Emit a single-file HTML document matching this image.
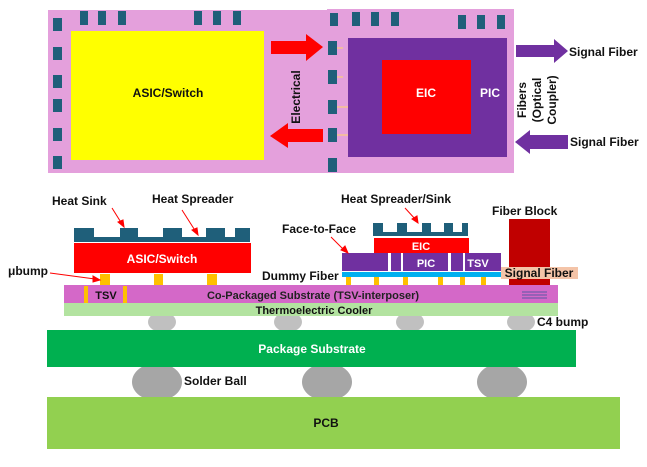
<!DOCTYPE html>
<html><head><meta charset="utf-8"><style>
html,body{margin:0;padding:0;background:#fff;}
svg{display:block;}
text{font-family:"Liberation Sans",Arial,sans-serif;font-weight:bold;}
</style></head><body>
<svg width="647" height="467" viewBox="0 0 647 467" xmlns="http://www.w3.org/2000/svg">
<!-- TOP VIEW -->
<rect x="48" y="10" width="280" height="163" fill="#e4a0dc"/>
<rect x="327" y="9" width="187" height="164" fill="#e4a0dc"/>
<rect x="71" y="31" width="193" height="129" fill="#ffff00"/>
<text x="168" y="97" font-size="12" text-anchor="middle" fill="#111">ASIC/Switch</text>
<rect x="348" y="38" width="159" height="119" fill="#7030a0"/>
<rect x="382" y="60" width="89" height="74" fill="#ff0000"/>
<text x="426" y="97" font-size="12" text-anchor="middle" fill="#fff">EIC</text>
<text x="490" y="97" font-size="12" text-anchor="middle" fill="#fff">PIC</text>
<g fill="#1f5f7a">
<rect x="53" y="18" width="9" height="13"/><rect x="53" y="47" width="9" height="13"/><rect x="53" y="75" width="9" height="13"/><rect x="53" y="99" width="9" height="13"/><rect x="53" y="128" width="9" height="13"/><rect x="53" y="156" width="9" height="13"/>
<rect x="80" y="11" width="8" height="14"/><rect x="98" y="11" width="8" height="14"/><rect x="118" y="11" width="8" height="14"/>
<rect x="194" y="11" width="8" height="14"/><rect x="213" y="11" width="8" height="14"/><rect x="233" y="11" width="8" height="14"/>
<rect x="330" y="13" width="8" height="13"/><rect x="352" y="12" width="8" height="14"/><rect x="371" y="12" width="8" height="14"/><rect x="391" y="12" width="8" height="14"/>
<rect x="458" y="15" width="8" height="14"/><rect x="477" y="15" width="8" height="14"/><rect x="497" y="15" width="8" height="14"/>
<rect x="328" y="41" width="9" height="14"/><rect x="328" y="70" width="9" height="14"/><rect x="328" y="100" width="9" height="14"/><rect x="328" y="128" width="9" height="14"/><rect x="328" y="158" width="9" height="14"/>
</g>
<g stroke="#ffd966" stroke-width="1">
<line x1="337" y1="48" x2="343" y2="48"/><line x1="337" y1="77" x2="343" y2="77"/><line x1="337" y1="107" x2="348" y2="107"/><line x1="337" y1="135" x2="348" y2="135"/>
</g>
<polygon points="271,41 306,41 306,34 323,47 306,61 306,54 271,54" fill="#ff0000"/>
<polygon points="323,129 288,129 288,123 270,136 288,148 288,142 323,142" fill="#ff0000"/>
<text transform="translate(300,97) rotate(-90)" font-size="12" text-anchor="middle" fill="#111">Electrical</text>
<polygon points="516,45 554,45 554,39 568,51 554,63 554,57 516,57" fill="#7030a0"/>
<polygon points="568,135 530,135 530,130 515,142 530,154 530,149 568,149" fill="#7030a0"/>
<text x="569" y="56" font-size="12" fill="#111">Signal Fiber</text>
<text x="570" y="146" font-size="12" fill="#111">Signal Fiber</text>
<g font-size="12" fill="#111" text-anchor="middle">
<text transform="translate(526,100) rotate(-90)">Fibers</text>
<text transform="translate(541,100) rotate(-90)">(Optical</text>
<text transform="translate(556,100) rotate(-90)">Coupler)</text>
</g>

<!-- CROSS SECTION -->
<g fill="#a6a6a6">
<ellipse cx="157" cy="382" rx="25" ry="19"/><ellipse cx="327" cy="382" rx="25" ry="19"/><ellipse cx="502" cy="382" rx="25" ry="19"/>
</g>
<g fill="#c0c0c0">
<ellipse cx="162" cy="322" rx="14" ry="10"/><ellipse cx="288" cy="322" rx="14" ry="10"/><ellipse cx="410" cy="322" rx="14" ry="10"/><ellipse cx="521" cy="322" rx="14" ry="10"/>
</g>
<rect x="47" y="330" width="529" height="37" fill="#00b050"/>
<text x="312" y="353" font-size="12" text-anchor="middle" fill="#fff">Package Substrate</text>
<rect x="47" y="397" width="573" height="52" fill="#92d050"/>
<text x="326" y="427" font-size="12" text-anchor="middle" fill="#111">PCB</text>
<text x="184" y="385" font-size="12" fill="#111">Solder Ball</text>
<text x="537" y="326" font-size="12" fill="#111">C4 bump</text>

<rect x="64" y="285" width="494" height="18" fill="#d468c8"/>
<rect x="64" y="303" width="494" height="13" fill="#b3e3a0"/>
<text x="314" y="314" font-size="11" text-anchor="middle" fill="#111">Thermoelectric Cooler</text>
<text x="313" y="299" font-size="11" text-anchor="middle" fill="#222" font-weight="normal">Co-Packaged Substrate (TSV-interposer)</text>
<rect x="84" y="286" width="4" height="17" fill="#ffc000"/><rect x="123" y="286" width="4" height="17" fill="#ffc000"/>
<text x="106" y="299" font-size="11" text-anchor="middle" fill="#111">TSV</text>
<g stroke="#2f5597" stroke-width="0.8"><line x1="522" y1="292" x2="547" y2="292"/><line x1="522" y1="295" x2="547" y2="295"/><line x1="522" y1="298" x2="547" y2="298"/></g>

<path d="M74,228 H94 V237 H120 V228 H138 V237 H163 V228 H182 V237 H206 V228 H225 V237 H235 V228 H250 V242 H74 Z" fill="#1f5f7a"/>
<rect x="74" y="243" width="177" height="30" fill="#ff0000"/>
<text x="162" y="263" font-size="12" text-anchor="middle" fill="#fff">ASIC/Switch</text>
<g fill="#ffc000"><rect x="100" y="274" width="10" height="11"/><rect x="154" y="274" width="9" height="11"/><rect x="207" y="274" width="10" height="11"/></g>

<path d="M373,223 H383 V232 H397 V223 H407 V232 H422 V223 H431 V232 H444 V223 H453 V232 H462 V223 H468 V236 H373 Z" fill="#1f5f7a"/>
<rect x="374" y="238" width="95" height="15" fill="#ff0000"/>
<text x="421" y="250" font-size="11" text-anchor="middle" fill="#fff">EIC</text>
<rect x="342" y="253" width="159" height="18" fill="#7030a0"/>
<g fill="#fff"><rect x="388" y="253" width="3" height="18"/><rect x="401" y="253" width="2" height="18"/><rect x="448" y="253" width="3" height="18"/><rect x="463" y="253" width="2" height="18"/></g>
<text x="426" y="267" font-size="11" text-anchor="middle" fill="#fff">PIC</text>
<text x="478" y="267" font-size="11" text-anchor="middle" fill="#fff">TSV</text>
<rect x="342" y="272" width="159" height="5" fill="#00b0f0"/>
<g fill="#ffc000"><rect x="346" y="277" width="5" height="8"/><rect x="374" y="277" width="5" height="8"/><rect x="403" y="277" width="5" height="8"/><rect x="438" y="277" width="5" height="8"/><rect x="460" y="277" width="5" height="8"/><rect x="481" y="277" width="5" height="8"/></g>
<rect x="509" y="219" width="41" height="66" fill="#c00000"/>
<rect x="501" y="267" width="77" height="12" fill="#f4c4a8"/>
<text x="539" y="277" font-size="12" text-anchor="middle" fill="#111">Signal Fiber</text>

<g font-size="12" fill="#111">
<text x="52" y="205">Heat Sink</text>
<text x="152" y="203">Heat Spreader</text>
<text x="341" y="203">Heat Spreader/Sink</text>
<text x="492" y="215">Fiber Block</text>
<text x="282" y="233">Face-to-Face</text>
<text x="8" y="275">μbump</text>
<text x="262" y="280">Dummy Fiber</text>
</g>
<g stroke="#ff0000" stroke-width="1" fill="#ff0000">
<line x1="112" y1="208" x2="122" y2="224"/><polygon points="124,227 118,222 123,220"/>
<line x1="182" y1="210" x2="196" y2="232"/><polygon points="198,235 192,230 197,228"/>
<line x1="405" y1="208" x2="416" y2="220"/><polygon points="418,223 412,219 417,216"/>
<line x1="331" y1="237" x2="345" y2="251"/><polygon points="348,253 341,250 345,246"/>
<line x1="50" y1="273" x2="95" y2="279"/><polygon points="100,280 93,282 93,276"/>
</g>
</svg>
</body></html>
